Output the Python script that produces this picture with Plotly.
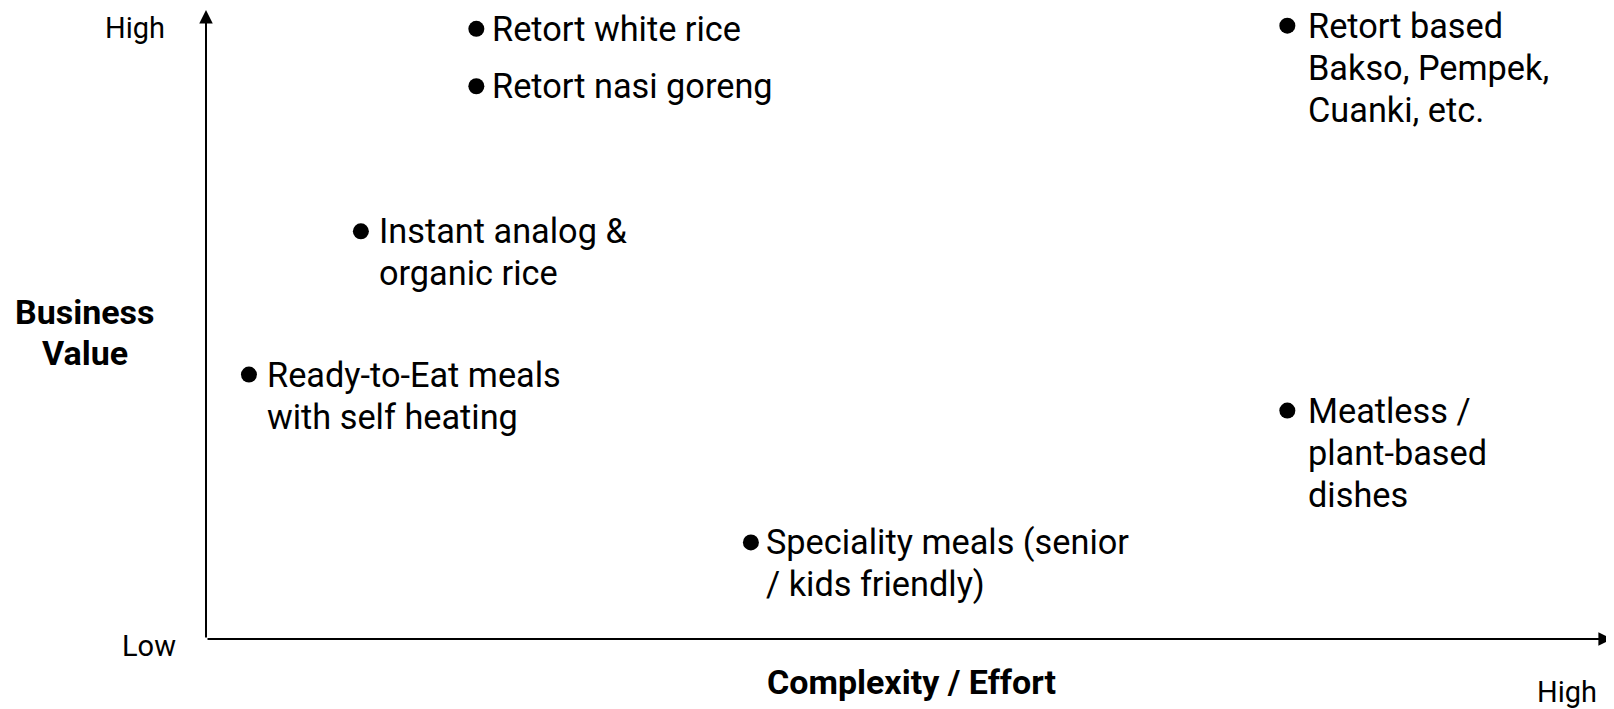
import plotly.graph_objects as go

# Data
items = [
    "Retort white rice",
    "Retort nasi goreng",
    "Retort based<br>Bakso, Pempek,<br>Cuanki, etc.",
    "Instant analog &<br>organic rice",
    "Ready-to-Eat meals<br>with self heating",
    "Meatless /<br>plant-based<br>dishes",
    "Speciality meals (senior<br>/ kids friendly)",
]
complexity = [19.2, 19.2, 76.8, 11.0, 3.05, 76.8, 38.7]
value = [96.7, 87.6, 97.2, 64.6, 41.9, 36.2, 15.3]

x_title = "Complexity / Effort"
y_title = ["Business", "Value"]
y_tick_labels = ["Low", "High"]
x_tick_label = "High"

# styling (kept apart from the data)
label_gap = [16, 16, 21, 18, 18, 21, 15]   # px gap between marker and its label
FONT = "Roboto"
# page has an 8px body margin, so the figure is sized to fill the rest
W, H = 1606, 701
ML, MR, MT, MB = 198, 0, 0, 70
LINE = 42
LABEL_SIZE = 34.3
TITLE_SIZE = 34
TICK_SIZE = 29

fig = go.Figure()
fig.add_trace(go.Scatter(
    x=complexity, y=value, mode="markers",
    marker=dict(color="black", size=16, line=dict(width=0)),
    hoverinfo="skip", showlegend=False,
))

annotations = []
for xv, yv, t, gap in zip(complexity, value, items, label_gap):
    for i, line in enumerate(t.split("<br>")):
        annotations.append(dict(
            x=xv, y=yv, xref="x", yref="y", text=line, showarrow=False,
            xanchor="left", yanchor="middle", align="left",
            xshift=gap, yshift=0 - i * LINE, borderpad=0, borderwidth=0,
            font=dict(family=FONT, size=LABEL_SIZE, color="black"),
        ))

# axis arrows
annotations.append(dict(x=0.9985, y=0, ax=0, ay=0, xref="x domain", yref="y domain",
                        axref="x domain", ayref="y domain", text="", showarrow=True,
                        arrowhead=2, arrowsize=1.35, arrowwidth=2, arrowcolor="black"))
annotations.append(dict(x=0, y=0.997, ax=0, ay=0, xref="x domain", yref="y domain",
                        axref="x domain", ayref="y domain", text="", showarrow=True,
                        arrowhead=2, arrowsize=1.35, arrowwidth=2, arrowcolor="black"))

# tick-like labels (positions relative to the axes corner)
annotations.append(dict(x=0, y=0, xref="paper", yref="paper", text=y_tick_labels[1],
                        showarrow=False, xanchor="right", yanchor="middle",
                        xshift=-41, yshift=611, borderwidth=0, borderpad=0,
                        font=dict(family=FONT, size=TICK_SIZE, color="black")))
annotations.append(dict(x=0, y=0, xref="paper", yref="paper", text=y_tick_labels[0],
                        showarrow=False, xanchor="right", yanchor="middle",
                        xshift=-30, yshift=-7, borderwidth=0, borderpad=0,
                        font=dict(family=FONT, size=TICK_SIZE, color="black")))
annotations.append(dict(x=0, y=0, xref="paper", yref="paper", text=x_tick_label,
                        showarrow=False, xanchor="center", yanchor="middle",
                        xshift=1361, yshift=-53, borderwidth=0, borderpad=0,
                        font=dict(family=FONT, size=TICK_SIZE, color="black")))

# axis titles
for i, line in enumerate(y_title):
    annotations.append(dict(x=0, y=0, xref="paper", yref="paper", text="<b>" + line + "</b>",
                            showarrow=False, xanchor="center", yanchor="middle",
                            xshift=-121, yshift=327 - i * 41, borderwidth=0, borderpad=0,
                            font=dict(family=FONT, size=TITLE_SIZE, color="black")))
annotations.append(dict(x=0, y=0, xref="paper", yref="paper", text="<b>" + x_title + "</b>",
                        showarrow=False, xanchor="center", yanchor="middle",
                        xshift=705, yshift=-43, borderwidth=0, borderpad=0,
                        font=dict(family=FONT, size=TITLE_SIZE, color="black")))

fig.update_layout(
    width=W, height=H,
    margin=dict(l=ML, r=MR, t=MT, b=MB, pad=0),
    paper_bgcolor="white", plot_bgcolor="white",
    xaxis=dict(range=[0, 100], visible=False, fixedrange=True),
    yaxis=dict(range=[0, 100], visible=False, fixedrange=True),
    annotations=annotations,
    font=dict(family=FONT),
)

fig.write_html("out.html", config={"displayModeBar": False})
